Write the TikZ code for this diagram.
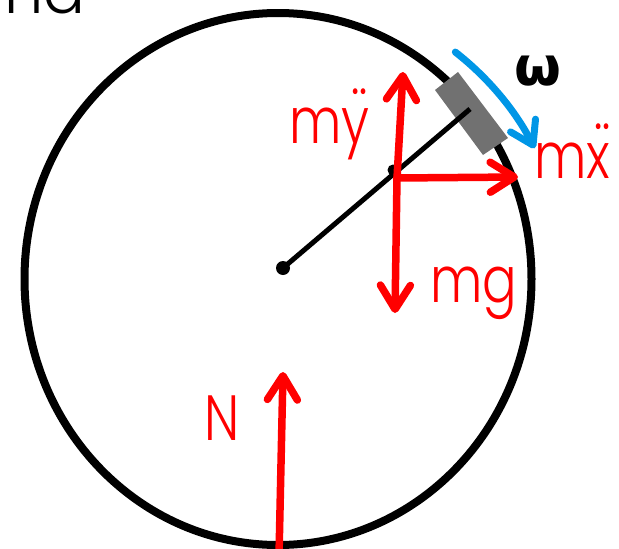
\documentclass[tikz,border=0pt]{standalone}
\usepackage{fontspec}
\usetikzlibrary{arrows.meta}
\IfFontExistsTF{Poppins Light}{\newfontfamily\labfont{Poppins Light}}{\newfontfamily\labfont{Poppins}}
\newfontfamily\omfont{DejaVu Sans}
\definecolor{forcered}{RGB}{255,0,0}
\definecolor{omblue}{RGB}{0,150,230}
\definecolor{boxgray}{RGB}{113,113,113}
\newcommand{\narrow}[1]{\scalebox{0.8}[1]{#1}}
\newcommand{\ddt}[1]{\ooalign{#1\cr\hidewidth\raisebox{9pt}{¨}\kern-10pt\hidewidth}}
\begin{document}
\begin{tikzpicture}[x=1pt,y=-1pt,
  force/.style={draw=forcered, line width=7.5pt, line cap=round,
    -{Straight Barb[length=24pt,width=30pt,round]}},
  spin/.style={draw=omblue, line width=7pt, line cap=round,
    -{Straight Barb[length=22pt,width=28pt,round]}},
  lab/.style={font=\labfont\fontsize{64}{64}\selectfont, text=forcered,
    anchor=base west, inner sep=0pt},
  dotb/.style={fill=black, circle, inner sep=0pt}]
\useasboundingbox (0,0) rectangle (619,549);
\begin{scope}
\clip (0,0) rectangle (619,549);
\node[font=\labfont\fontsize{62}{62}\selectfont, anchor=base east, inner sep=0pt] (ttl) at (86,13) {nd};
\end{scope}
% wheel
\coordinate (wc) at (278,279);
\draw[line width=8pt] (wc) ellipse [x radius=253.5, y radius=266];
% mass block
\fill[boxgray] (435,90) -- (458,72) -- (508,138) -- (483,155) -- cycle;
% radius arm
\node[dotb, minimum size=14pt] (ctr) at (283,268) {};
\coordinate (mass) at (470,109);
\draw[line width=5pt] (ctr.center) -- (mass);
\node[dotb, minimum size=11pt] (jd) at (393,170) {};
% omega arrow
\draw[spin] ([shift={(-52:288)}]wc) arc[start angle=-52, end angle=-27, radius=288];
\node[font=\omfont\bfseries\fontsize{54}{54}\selectfont, anchor=base, inner sep=0pt] (om) at (538,85) {ω};
% forces
\coordinate (J) at (397,178);
\coordinate (ytip) at (403,72);
\coordinate (xtip) at (518,177);
\coordinate (gtip) at (395,313);
\coordinate (nbase) at (279,556);
\coordinate (ntip) at (283,372);
\draw[force] (J) -- (ytip);
\draw[force] (J) -- (gtip);
\draw[force] (J) -- (xtip);
\draw[force] (nbase) -- (ntip);
% labels
\node[lab] (ly) at (289,143) {\narrow{m\ddt{y}}};
\node[lab] (lx) at (534,178) {\narrow{m\ddt{x}}};
\node[lab] (lg) at (430,302) {\narrow{mg}};
\node[lab] (ln) at (204,440) {\narrow{N}};
\end{tikzpicture}
\end{document}
